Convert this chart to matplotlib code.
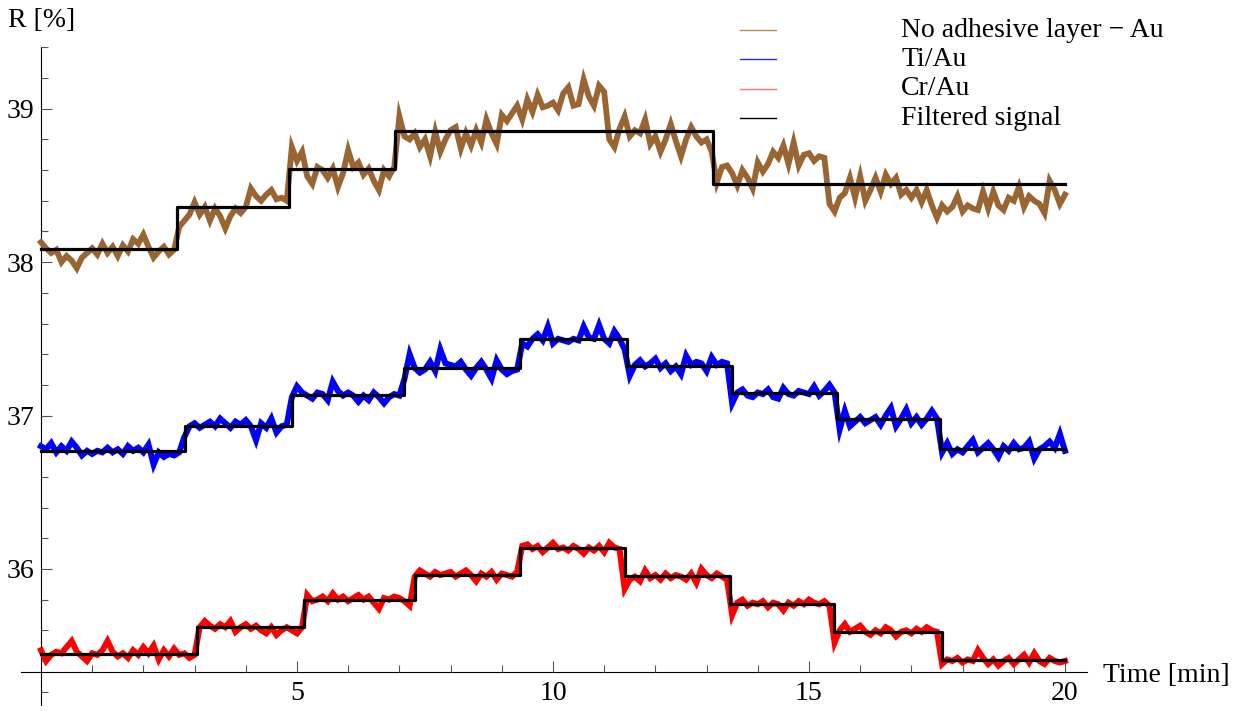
import numpy as np
import matplotlib
matplotlib.use("Agg")
import matplotlib.pyplot as plt
from matplotlib.lines import Line2D

plt.rcParams['font.family'] = ['Liberation Serif', 'DejaVu Serif']

# sampling times [min]
time_min = np.round(np.arange(0, 201) * 0.1, 1)

# raw reflectance signals R [%]
no_adhesive_au = [
    38.13, 38.09, 38.06, 38.08, 38.00, 38.04, 38.01, 37.96, 38.03, 38.06,
    38.09, 38.05, 38.12, 38.06, 38.10, 38.04, 38.11, 38.07, 38.15, 38.12,
    38.18, 38.10, 38.03, 38.07, 38.10, 38.05, 38.08, 38.23, 38.27, 38.31,
    38.39, 38.31, 38.36, 38.27, 38.35, 38.30, 38.22, 38.30, 38.35, 38.32,
    38.36, 38.48, 38.43, 38.40, 38.44, 38.47, 38.41, 38.42, 38.40, 38.75,
    38.66, 38.72, 38.56, 38.51, 38.62, 38.60, 38.55, 38.61, 38.49, 38.58,
    38.73, 38.62, 38.65, 38.57, 38.61, 38.53, 38.47, 38.60, 38.56, 38.62,
    38.95, 38.82, 38.80, 38.84, 38.75, 38.80, 38.69, 38.85, 38.72, 38.80,
    38.86, 38.88, 38.74, 38.84, 38.76, 38.86, 38.78, 38.93, 38.84, 38.77,
    38.96, 38.92, 38.97, 39.02, 38.93, 39.06, 38.98, 39.09, 39.01, 39.02,
    39.04, 38.99, 39.10, 39.14, 39.02, 39.03, 39.19, 39.08, 39.02, 39.15,
    39.11, 38.80, 38.75, 38.87, 38.95, 38.82, 38.86, 38.84, 38.93, 38.77,
    38.82, 38.72, 38.80, 38.90, 38.79, 38.69, 38.80, 38.88, 38.82, 38.78,
    38.80, 38.72, 38.52, 38.62, 38.63, 38.58, 38.50, 38.60, 38.55, 38.48,
    38.65, 38.59, 38.64, 38.72, 38.68, 38.76, 38.64, 38.78, 38.63, 38.70,
    38.71, 38.66, 38.69, 38.68, 38.38, 38.33, 38.42, 38.45, 38.55, 38.42,
    38.56, 38.40, 38.47, 38.55, 38.46, 38.57, 38.51, 38.55, 38.44, 38.47,
    38.42, 38.47, 38.39, 38.47, 38.37, 38.29, 38.37, 38.33, 38.36, 38.43,
    38.33, 38.37, 38.35, 38.34, 38.46, 38.35, 38.46, 38.37, 38.34, 38.42,
    38.40, 38.49, 38.36, 38.43, 38.40, 38.38, 38.32, 38.53, 38.47, 38.38,
    38.44,
]

ti_au = [
    36.80, 36.78, 36.82, 36.76, 36.80, 36.77, 36.83, 36.79, 36.74, 36.77,
    36.75, 36.77, 36.76, 36.79, 36.76, 36.78, 36.75, 36.80, 36.77, 36.79,
    36.76, 36.81, 36.68, 36.76, 36.73, 36.75, 36.74, 36.76, 36.86, 36.93,
    36.95, 36.92, 36.94, 36.96, 36.93, 36.98, 36.95, 36.92, 36.96, 36.94,
    36.97, 36.93, 36.84, 36.95, 36.92, 36.98, 36.89, 36.93, 36.94, 37.12,
    37.19, 37.15, 37.13, 37.11, 37.15, 37.14, 37.10, 37.22, 37.16, 37.13,
    37.15, 37.13, 37.09, 37.13, 37.10, 37.15, 37.12, 37.08, 37.12, 37.14,
    37.13, 37.24, 37.40, 37.31, 37.28, 37.30, 37.35, 37.29, 37.43, 37.34,
    37.33, 37.32, 37.35, 37.30, 37.26, 37.31, 37.35, 37.30, 37.24, 37.36,
    37.30, 37.27, 37.29, 37.30, 37.47, 37.45, 37.50, 37.53, 37.49, 37.58,
    37.47, 37.50, 37.49, 37.48, 37.50, 37.49, 37.58, 37.51, 37.50, 37.59,
    37.50, 37.47, 37.55, 37.50, 37.43, 37.26, 37.33, 37.36, 37.32, 37.34,
    37.37, 37.31, 37.34, 37.29, 37.32, 37.27, 37.39, 37.33, 37.35, 37.34,
    37.29, 37.38, 37.33, 37.35, 37.34, 37.08, 37.15, 37.17, 37.13, 37.12,
    37.15, 37.14, 37.17, 37.12, 37.11, 37.18, 37.14, 37.13, 37.16, 37.15,
    37.14, 37.19, 37.13, 37.16, 37.20, 37.15, 36.91, 37.03, 36.93, 36.96,
    36.99, 36.95, 36.97, 36.99, 36.94, 37.00, 37.05, 36.93, 36.98, 37.04,
    36.95, 36.99, 36.94, 36.98, 37.03, 36.98, 36.76, 36.82, 36.75, 36.78,
    36.76, 36.80, 36.84, 36.76, 36.79, 36.82, 36.78, 36.73, 36.80, 36.77,
    36.82, 36.78, 36.79, 36.83, 36.72, 36.78, 36.80, 36.83, 36.79, 36.88,
    36.77,
]

cr_au = [
    35.47, 35.40, 35.44, 35.46, 35.45, 35.49, 35.53, 35.46, 35.43, 35.40,
    35.45, 35.44, 35.47, 35.53, 35.46, 35.43, 35.45, 35.42, 35.47, 35.44,
    35.49, 35.45, 35.50, 35.41, 35.47, 35.43, 35.48, 35.44, 35.45, 35.42,
    35.44, 35.62, 35.66, 35.63, 35.61, 35.64, 35.62, 35.66, 35.59, 35.62,
    35.64, 35.61, 35.63, 35.60, 35.58, 35.62, 35.57, 35.60, 35.62, 35.60,
    35.58, 35.62, 35.83, 35.79, 35.80, 35.82, 35.79, 35.84, 35.80, 35.82,
    35.79, 35.81, 35.83, 35.80, 35.82, 35.78, 35.74, 35.81, 35.80, 35.82,
    35.81, 35.79, 35.76, 35.95, 35.99, 35.97, 35.95, 35.98, 35.96, 35.97,
    35.98, 35.95, 35.97, 35.99, 35.96, 35.92, 35.97, 35.95, 35.98, 35.93,
    35.97, 35.96, 35.95, 35.98, 36.15, 36.16, 36.13, 36.15, 36.11, 36.14,
    36.17, 36.13, 36.14, 36.12, 36.15, 36.13, 36.10, 36.14, 36.12, 36.15,
    36.11, 36.17, 36.14, 36.13, 35.87, 35.93, 35.95, 35.92, 35.99, 35.94,
    35.96, 35.93, 35.97, 35.94, 35.96, 35.95, 35.93, 35.97, 35.91, 36.00,
    35.96, 35.94, 35.97, 35.95, 35.93, 35.70, 35.78, 35.80, 35.76, 35.78,
    35.77, 35.79, 35.75, 35.78, 35.77, 35.73, 35.78, 35.76, 35.79, 35.77,
    35.80, 35.78, 35.77, 35.79, 35.76, 35.52, 35.60, 35.64, 35.59, 35.61,
    35.63, 35.59, 35.57, 35.60, 35.58, 35.62, 35.60, 35.56, 35.59, 35.60,
    35.58, 35.61, 35.59, 35.62, 35.60, 35.59, 35.38, 35.41, 35.40, 35.42,
    35.39, 35.41, 35.40, 35.47, 35.42, 35.38, 35.41, 35.37, 35.40, 35.42,
    35.38, 35.41, 35.44, 35.39, 35.45, 35.40, 35.38, 35.42, 35.40, 35.39,
    35.40,
]

# filtered (piecewise constant) signals: segment edges [min] and levels [%]
no_adhesive_edges = [0, 2.65, 4.84, 6.91, 13.13, 20]
no_adhesive_levels = [38.085, 38.36, 38.607, 38.855, 38.51]
ti_edges = [0, 2.81, 4.90, 7.09, 9.36, 11.44, 13.49, 15.54, 17.56, 20]
ti_levels = [36.77, 36.935, 37.137, 37.313, 37.496, 37.32, 37.15, 36.98, 36.785]
cr_edges = [0, 3.04, 5.14, 7.30, 9.36, 11.41, 13.46, 15.49, 17.59, 20]
cr_levels = [35.445, 35.62, 35.80, 35.96, 36.137, 35.954, 35.77, 35.59, 35.406]

series_labels = ["No adhesive layer \u2212 Au", "Ti/Au", "Cr/Au", "Filtered signal"]
x_major_ticks = [5, 10, 15, 20]
y_major_ticks = [36, 37, 38, 39]

BROWN = "#996633"
BLUE = "#0000ff"
RED = "#ff0000"


def step_path(edges, levels):
    xs, ys = [], []
    for i, lv in enumerate(levels):
        xs += [edges[i], edges[i + 1]]
        ys += [lv, lv]
    return xs, ys


W, H = 1244, 711
fig = plt.figure(figsize=(W / 100, H / 100), dpi=100)
ax_left, ax_right, ax_top, ax_bottom = 21, 1087, 47.4, 705
ax = fig.add_axes([ax_left / W, 1 - ax_bottom / H,
                   (ax_right - ax_left) / W, (ax_bottom - ax_top) / H])
ax.set_xlim(-0.39, 20.43)
ax.set_ylim(35.113, 39.40)

for vals, col, lw in [(no_adhesive_au, BROWN, 4.2), (ti_au, BLUE, 4.3), (cr_au, RED, 4.3)]:
    ax.plot(time_min, vals, color=col, lw=lw, solid_joinstyle='miter', zorder=2)

for edges, levels in [(no_adhesive_edges, no_adhesive_levels),
                      (ti_edges, ti_levels), (cr_edges, cr_levels)]:
    xs, ys = step_path(edges, levels)
    ax.plot(xs, ys, color="black", lw=2.3, zorder=3)

# axes crossing at (0, 35.33)
for s in ("top", "right"):
    ax.spines[s].set_visible(False)
ax.spines["bottom"].set_position(("data", 35.33))
ax.spines["left"].set_position(("data", 0))
for s in ("bottom", "left"):
    ax.spines[s].set_linewidth(0.8)
    ax.spines[s].set_zorder(1)

ax.set_xticks(x_major_ticks)
ax.set_xticks(np.arange(1, 21), minor=True)
ax.set_yticks(y_major_ticks)
ax.set_yticks(np.round(np.arange(35.2, 39.41, 0.2), 1), minor=True)
ax.tick_params(which="major", direction="in", length=8, width=0.8,
               color="#555555", labelsize=20)
ax.tick_params(which="minor", direction="in", length=4.8, width=0.8,
               color="#555555")
ax.tick_params(axis="x", which="major", pad=6.5)
ax.tick_params(axis="y", which="major", pad=5)

fig.text(8 / W, 1 - 27 / H, "R [%]", fontsize=20, va="baseline", ha="left")
fig.text(1103 / W, 1 - 682 / H, "Time [min]", fontsize=20, va="baseline", ha="left")

# legend
legend_colors = ["#b88a5c", "#2a2aff", "#ff7070", "#000000"]
for i, (lab, col) in enumerate(zip(series_labels, legend_colors)):
    base = 36.7 + i * 29.3
    ly = base - 6.7
    fig.add_artist(Line2D([740 / W, 776 / W], [1 - ly / H, 1 - ly / H],
                          transform=fig.transFigure, color=col, lw=1.0))
    fig.text(901 / W, 1 - base / H, lab, fontsize=20, va="baseline", ha="left")

fig.savefig("out.png", dpi=100)
